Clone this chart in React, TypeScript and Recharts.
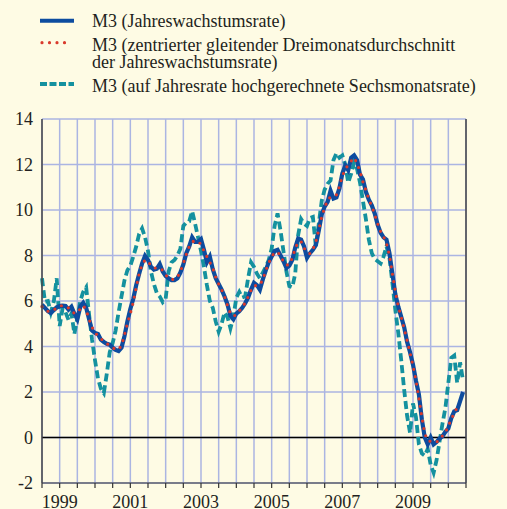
import { LineChart, Line, XAxis, YAxis, CartesianGrid, ReferenceLine } from 'recharts';

// month index, 0 = Jan 1999
const months = Array.from({ length: 144 }, (_, i) => i);

const yearLabels: Record<number, string> = { 6: '1999', 30: '2001', 54: '2003', 78: '2005', 102: '2007', 126: '2009' };
const xTicks = Array.from({ length: 25 }, (_, i) => i * 6);
const yTicks = [-2, 0, 2, 4, 6, 8, 10, 12, 14];

const m3Annual = [
  5.84, 5.7, 5.55, 5.47, 5.6, 5.72, 5.78, 5.8, 5.78, 5.62, 5.75, 5.45,
  5.2, 5.75, 5.92, 5.7, 5.2, 4.7, 4.6, 4.55, 4.3, 4.2, 4.12, 4.08,
  3.95, 3.85, 3.8, 3.95, 4.45, 5.1, 5.65, 6.1, 6.7, 7.2, 7.65, 7.98,
  7.8, 7.5, 7.38, 7.42, 7.62, 7.3, 7.1, 7.0, 6.92, 6.92, 7.0, 7.25,
  7.6, 8.1, 8.4, 8.8, 8.6, 8.6, 8.72, 8.25, 7.7, 7.95, 7.4, 7.0,
  6.75, 6.5, 6.2, 5.85, 5.35, 5.2, 5.45, 5.55, 5.7, 5.9, 6.15, 6.5,
  6.8, 6.7, 6.5, 6.95, 7.35, 7.7, 7.95, 8.2, 8.25, 8.0, 7.75, 7.45,
  7.55, 7.8, 8.35, 8.75, 8.7, 8.4, 7.9, 8.1, 8.25, 8.45, 9.1, 9.8,
  10.15, 10.36, 10.85, 10.5, 10.55, 10.95, 11.6, 11.95, 11.75, 12.3, 12.4, 12.2,
  11.55, 11.35, 10.8, 10.45, 10.2, 9.85, 9.35, 9.0, 8.8, 8.7, 8.1, 7.2,
  6.3, 5.75, 5.3, 4.85, 4.2, 3.75, 3.2, 2.5, 1.9, 0.8, 0.0, -0.3,
  0.0, -0.3, -0.2, -0.05, 0.05, 0.25, 0.4, 0.85, 1.15, 1.2, 1.6, 2.0,
];

const m3Centered = [
  5.75, 5.65, 5.55, 5.55, 5.6, 5.7, 5.78, 5.8, 5.72, 5.7, 5.6, 5.45,
  5.5, 5.65, 5.8, 5.6, 5.2, 4.85, 4.6, 4.48, 4.35, 4.22, 4.13, 4.05,
  3.95, 3.87, 3.87, 4.05, 4.5, 5.0, 5.45, 5.95, 6.6, 7.2, 7.6, 7.8,
  7.75, 7.55, 7.45, 7.45, 7.45, 7.35, 7.15, 7.0, 6.95, 6.95, 7.05, 7.3,
  7.65, 8.05, 8.4, 8.6, 8.65, 8.6, 8.5, 8.2, 7.95, 7.7, 7.45, 7.05,
  6.75, 6.5, 6.2, 5.8, 5.45, 5.33, 5.4, 5.57, 5.72, 5.92, 6.18, 6.48,
  6.68, 6.67, 6.72, 6.93, 7.33, 7.67, 7.95, 8.13, 8.15, 8.0, 7.73, 7.58,
  7.6, 7.9, 8.3, 8.6, 8.62, 8.33, 8.13, 8.08, 8.27, 8.6, 9.12, 9.7,
  10.1, 10.45, 10.57, 10.63, 10.67, 11.03, 11.5, 11.77, 12.0, 12.15, 12.3, 12.05,
  11.7, 11.23, 10.87, 10.48, 10.17, 9.8, 9.4, 9.05, 8.83, 8.53, 8.0, 7.2,
  6.42, 5.78, 5.3, 4.78, 4.27, 3.72, 3.15, 2.53, 1.73, 0.9, 0.17, -0.13,
  -0.17, -0.2, -0.2, -0.1, 0.07, 0.23, 0.5, 0.8, 1.07, 1.32,
];

const m3SixMonth = [
  7.0, 5.97, 6.0, 5.5, 5.97, 7.0, 4.9, 5.68, 5.5, 5.17, 5.45, 4.55,
  5.24, 6.0, 6.4, 6.6, 5.4, 4.3, 3.4, 2.6, 2.15, 1.95, 2.8, 3.75,
  4.15, 4.7, 5.5, 6.2, 6.9, 7.35, 7.55, 7.95, 8.4, 8.95, 9.19, 8.8,
  8.2, 7.3, 6.75, 6.35, 6.2, 5.95, 6.1, 7.3, 7.7, 7.8, 8.0, 8.3,
  9.3, 9.45, 9.5, 9.95, 9.4, 8.8, 8.2, 7.5, 6.7, 6.0, 5.7, 5.1,
  4.65, 5.0, 5.5, 5.3, 4.8, 5.3, 6.15, 6.4, 6.15, 6.2, 7.0, 7.7,
  7.5, 7.2, 7.0, 7.25, 7.5, 7.8, 8.3, 9.3, 9.85, 9.1, 8.2, 7.3,
  6.65, 6.6, 7.2, 8.9, 9.6, 9.4, 9.3, 9.65, 9.7, 8.4, 9.4, 10.4,
  10.9, 11.15, 11.3, 12.2, 12.5, 12.3, 12.4, 12.0, 11.2, 11.6, 12.1, 11.8,
  11.2, 10.4, 9.6, 8.7, 8.1, 7.85, 7.75, 7.65, 7.95, 8.4, 7.9, 6.8,
  5.6, 4.6, 3.4, 2.1, 0.95, 0.2, 1.5, 0.9, -0.3, -0.7, -0.8, -0.5,
  -1.2, -1.55, -1.0, -0.2, 0.6, 1.3, 2.4, 3.5, 3.6, 2.4, 3.3, 2.5,
];

const legendItems = [
  'M3 (Jahreswachstumsrate)',
  'M3 (zentrierter gleitender Dreimonatsdurchschnitt',
  'der Jahreswachstumsrate)',
  'M3 (auf Jahresrate hochgerechnete Sechsmonatsrate)',
];

const BLUE = '#0d4c9f';
const RED = '#d93a2c';
const TEAL = '#14919f';
const GRID = '#abb5e2';
const BG = '#fefbe4';
const FONT = '"Liberation Serif", "Times New Roman", serif';

const data = months.map(m => ({
  m,
  annual: m3Annual[m],
  centered: m < m3Centered.length ? m3Centered[m] : null,
  six: m3SixMonth[m],
}));

const tickStyle = { fontSize: 18, fontFamily: FONT, fill: '#231f20' };

export default function App() {
  return (
    <div style={{ position: 'absolute', left: 0, top: 0, width: 507, height: 509, background: BG, overflow: 'hidden', fontFamily: FONT }}>
      <svg width={507} height={100} style={{ position: 'absolute', left: 0, top: 0 }}>
        <line x1={40} x2={74} y1={20.7} y2={20.7} stroke={BLUE} strokeWidth={4} />
        <line x1={42} x2={72} y1={42.7} y2={42.7} stroke={RED} strokeWidth={3.2} strokeDasharray="0 7.5" strokeLinecap="round" />
        <line x1={40} x2={74} y1={84} y2={84} stroke={TEAL} strokeWidth={4} strokeDasharray="7 2.5" />
      </svg>
      {legendItems.map((t, i) => (
        <div key={i} style={{ position: 'absolute', left: 92, top: [12.8, 37.1, 53.8, 77.8][i], fontSize: 18, lineHeight: '16px', color: '#231f20', whiteSpace: 'nowrap' }}>
          {t}
        </div>
      ))}
      <div style={{ position: 'absolute', left: 0, top: 0 }}>
        <LineChart width={507} height={509} data={data} margin={{ top: 119, right: 0, bottom: 0, left: 0 }}>
          <CartesianGrid yAxisId="l" stroke={GRID} strokeWidth={1.5} />
          <XAxis
            type="number"
            dataKey="m"
            domain={[0, 144]}
            ticks={xTicks}
            interval={0}
            height={26}
            tickSize={5}
            tickMargin={7}
            tickFormatter={(v: number) => yearLabels[v] ?? ''}
            tick={tickStyle}
            axisLine={{ stroke: '#333', strokeWidth: 1.2 }}
            tickLine={{ stroke: '#333', strokeWidth: 1.2 }}
          />
          <YAxis
            yAxisId="l"
            domain={[-2, 14]}
            ticks={yTicks}
            interval={0}
            width={42}
            tickSize={0}
            tickMargin={9}
            tick={tickStyle}
            axisLine={{ stroke: '#444', strokeWidth: 1.5 }}
            tickLine={false}
          />
          <YAxis
            yAxisId="r"
            orientation="right"
            domain={[-2, 14]}
            ticks={yTicks}
            interval={0}
            width={41}
            tickSize={0}
            tickMargin={15}
            tick={{ ...tickStyle, textAnchor: 'start' }}
            axisLine={{ stroke: '#444', strokeWidth: 1.5 }}
            tickLine={false}
          />
          <ReferenceLine yAxisId="l" y={0} stroke="#000" strokeWidth={1.6} />
          <Line yAxisId="l" type="linear" dataKey="six" stroke={TEAL} strokeWidth={3.8} strokeDasharray="8 4" dot={false} isAnimationActive={false} />
          <Line yAxisId="l" type="linear" dataKey="annual" stroke={BLUE} strokeWidth={4.2} dot={false} isAnimationActive={false} />
          <Line yAxisId="l" type="linear" dataKey="centered" stroke={RED} strokeWidth={3.2} strokeDasharray="0 7.5" strokeLinecap="round" dot={false} isAnimationActive={false} connectNulls={false} />
        </LineChart>
      </div>
    </div>
  );
}
